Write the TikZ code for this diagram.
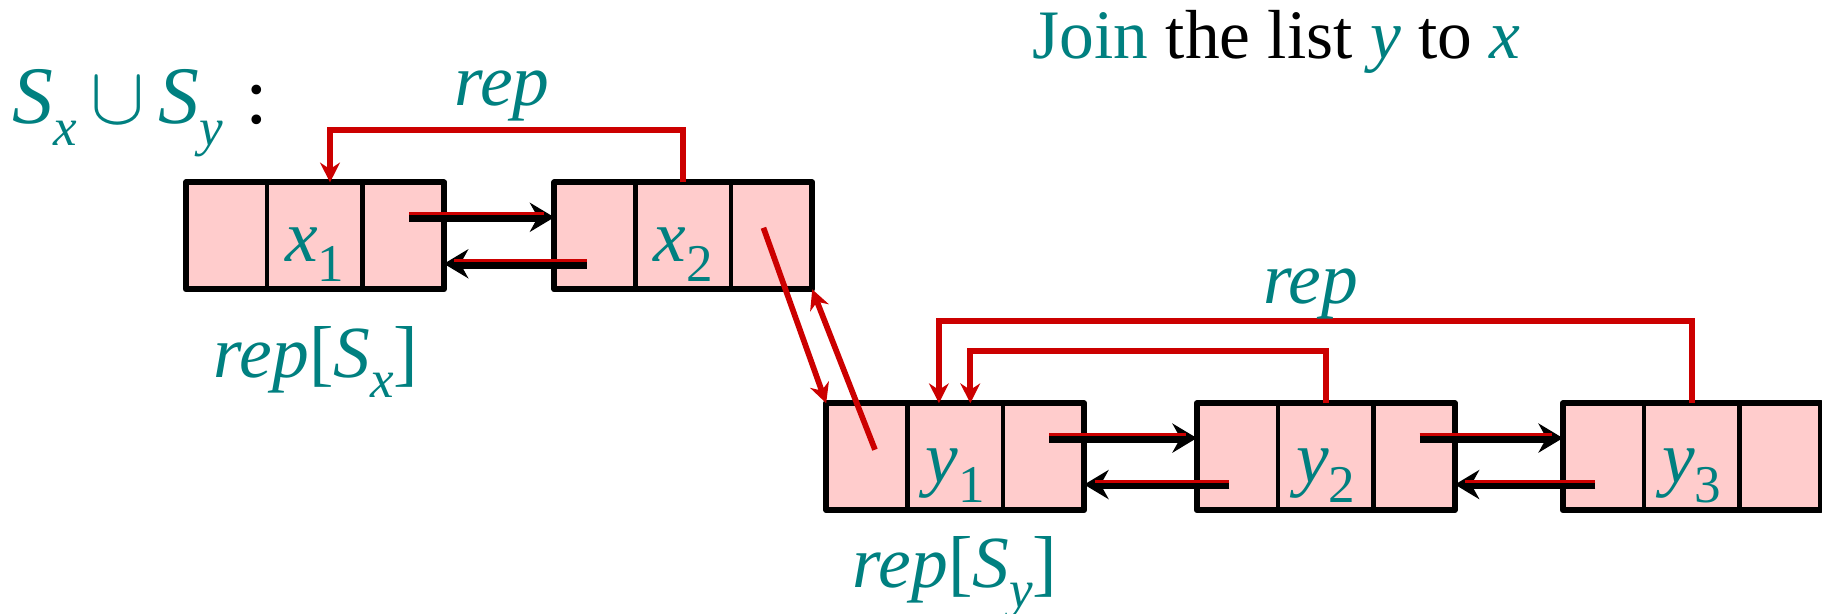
\documentclass[tikz,border=0pt]{standalone}
\usepackage{mathptmx}
\usepackage{fontspec}
\setmainfont{Liberation Serif}
\usetikzlibrary{arrows.meta,positioning}
\definecolor{repred}{RGB}{204,0,0}
\definecolor{labteal}{RGB}{0,128,128}
\definecolor{cellpink}{RGB}{255,204,204}
\newcommand{\idx}[2]{\textit{#1}\raisebox{-0.27em}{\fontsize{13}{14}\selectfont #2}}

\begin{document}
\begin{tikzpicture}[
    cellbase/.style={draw, fill=cellpink, line width=1.05pt, minimum height=0.92cm,
                     inner sep=0pt, outer sep=0pt},
    endcell/.style={cellbase, minimum width=0.70cm},
    keycell/.style={cellbase, minimum width=0.82cm, text=labteal,
                    font=\fontsize{18}{20}\selectfont,
                    text height=0.5cm, text depth=0.06cm},
    frameline/.style={draw, line width=1.45pt, line join=round},
    ptr/.style={-{Stealth[length=0.21cm, width=0.25cm]}, line width=2.4pt, black},
    ptrhi/.style={repred, line width=0.7pt},
    reparrow/.style={-{Stealth[length=0.17cm, width=0.17cm]}, repred,
                     line width=1.4pt},
    lbl/.style={text=labteal, font=\fontsize{18}{20}\selectfont, inner sep=0pt,
                anchor=base},
  ]
    \useasboundingbox (0,0) rectangle (15.68,-5.28);

    % titles
    \node[anchor=base west, inner sep=0pt, font=\fontsize{17}{20}\selectfont]
          (title) at (8.88,-0.50)
          {\textcolor{labteal}{Join} the list \textcolor{labteal}{\textit{y}}
           to \textcolor{labteal}{\textit{x}}};
    \node[anchor=base west, inner sep=0pt, font=\fontsize{20}{23}\selectfont]
          (union) at (0.10,-1.06)
          {\textcolor{labteal}{\idx{S}{\textit{x}}\,$\cup$\,\idx{S}{\textit{y}}}\;:};

    % list x
    \node[endcell] (x1l) at (1.95,-2.03) {};
    \node[keycell, right=0pt of x1l] (x1) {\idx{x}{1}};
    \node[endcell, right=0pt of x1] (x1r) {};
    \node[endcell, right=0.95cm of x1r] (x2l) {};
    \node[keycell, right=0pt of x2l] (x2) {\idx{x}{2}};
    \node[endcell, right=0pt of x2] (x2r) {};

    % list y
    \node[endcell] (y1l) at (7.46,-3.93) {};
    \node[keycell, right=0pt of y1l] (y1) {\idx{y}{1}};
    \node[endcell, right=0pt of y1] (y1r) {};
    \node[endcell, right=0.97cm of y1r] (y2l) {};
    \node[keycell, right=0pt of y2l] (y2) {\idx{y}{2}};
    \node[endcell, right=0pt of y2] (y2r) {};
    \node[endcell, right=0.93cm of y2r] (y3l) {};
    \node[keycell, right=0pt of y3l] (y3) {\idx{y}{3}};
    \node[endcell, right=0pt of y3] (y3r) {};

    \foreach \r in {x1,x2,y1,y2,y3}
      \draw[frameline] (\r l.north west) rectangle (\r r.south east);

    % next / prev pointers
    \foreach \a/\b in {x1r/x2l, y1r/y2l, y2r/y3l} {
      \draw[ptr] ([xshift=0.05cm, yshift=0.16cm]\a.center)
            -- ([yshift=0.16cm]\b.west);
      \draw[ptrhi] ([xshift=0.05cm, yshift=0.19cm]\a.center)
            -- ([xshift=-0.09cm, yshift=0.19cm]\b.west);
      \draw[ptr] ([xshift=-0.07cm, yshift=-0.24cm]\b.center)
            -- ([yshift=-0.24cm]\a.east);
      \draw[ptrhi] ([xshift=-0.07cm, yshift=-0.21cm]\b.center)
            -- ([xshift=0.09cm, yshift=-0.21cm]\a.east);
    }

    % joining x to y
    \draw[reparrow] ([xshift=-0.07cm, yshift=0.07cm]x2r.center) -- (y1l.north west);
    \draw[reparrow] ([xshift=0.07cm, yshift=0.06cm]y1l.center) -- (x2r.south east);

    % rep pointers
    \draw[reparrow] (x2.north) -- ++(0,0.45) -| ([xshift=0.13cm]x1.north);
    \draw[reparrow] (y2.north) -- ++(0,0.45) -| ([xshift=0.13cm]y1.north);
    \draw[reparrow] (y3.north) -- ++(0,0.71) -| ([xshift=-0.14cm]y1.north);

    \node[lbl] (repx) at (4.32,-0.91) {\textit{rep}};
    \node[lbl] (repy) at (11.28,-2.61) {\textit{rep}};
    \node[lbl] (headx) at (2.72,-3.25) {\textit{rep}[\idx{S}{\textit{x}}]};
    \node[lbl] (heady) at (8.22,-5.06) {\textit{rep}[\idx{S}{\textit{y}}]};
  \end{tikzpicture}
\end{document}
